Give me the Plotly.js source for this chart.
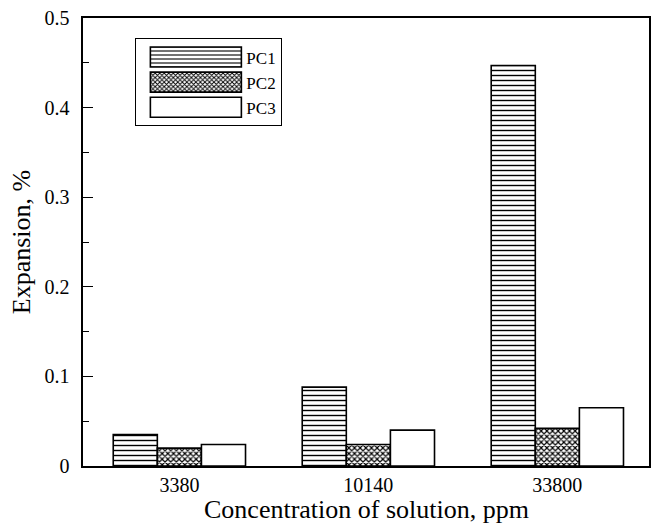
<!DOCTYPE html>
<html>
<head>
<meta charset="utf-8">
<script src="https://cdn.plot.ly/plotly-3.0.1.min.js"></script>
<style>html,body{margin:0;padding:0;background:#fff;}#chart{width:651px;height:524px;}</style>
</head>
<body>
<div id="chart"></div>
<script>
const categories = ["3380", "10140", "33800"];
const pc1 = [0.035, 0.088, 0.447];
const pc2 = [0.020, 0.024, 0.042];
const pc3 = [0.024, 0.040, 0.065];
const seriesNames = ["PC1", "PC2", "PC3"];
const yTickVals = [0, 0.1, 0.2, 0.3, 0.4, 0.5];
const yTickText = ["0", "0.1", "0.2", "0.3", "0.4", "0.5"];
const xTitle = "Concentration of solution, ppm";
const yTitle = "Expansion, %";

const font = "Liberation Serif";
const line = {color: "#000", width: 1.6};

const traces = [
  {type: "bar", name: seriesNames[0], x: categories, y: pc1,
   marker: {color: "#fff", line: line,
            pattern: {shape: "-", fgcolor: "#000", bgcolor: "#fff", size: 5, solidity: 0.28}}},
  {type: "bar", name: seriesNames[1], x: categories, y: pc2,
   marker: {color: "#fff", line: line,
            pattern: {shape: "x", fgcolor: "#000", bgcolor: "#fff", size: 4, solidity: 0.5}}},
  {type: "bar", name: seriesNames[2], x: categories, y: pc3,
   marker: {color: "#fff", line: line}}
];

const layout = {
  width: 651, height: 524,
  font: {family: font, color: "#000", size: 20},
  margin: {l: 83, r: 2, t: 18, b: 58},
  paper_bgcolor: "#fff", plot_bgcolor: "#fff",
  barmode: "group", bargap: 0.3, bargroupgap: 0,
  showlegend: true,
  legend: {x: 0.092, y: 0.955, xanchor: "left", yanchor: "top",
           bordercolor: "#000", borderwidth: 1.3, bgcolor: "#fff",
           font: {family: font, size: 17, color: "#000"},
           itemwidth: 100, tracegroupgap: 0},
  xaxis: {type: "category", range: [-0.51, 2.485],
          showline: true, linecolor: "#000", linewidth: 1.6, mirror: true,
          ticks: "", showgrid: false, zeroline: false, ticklabelstandoff: 0,
          tickfont: {family: font, size: 20, color: "#000"}},
  yaxis: {range: [0, 0.5], tickvals: yTickVals, ticktext: yTickText,
          showline: true, linecolor: "#000", linewidth: 1.6, mirror: true,
          ticks: "inside", ticklen: 10, tickwidth: 1.2, tickcolor: "#000",
          minor: {dtick: 0.05, ticks: "inside", ticklen: 6, tickwidth: 1, tickcolor: "#000"},
          showgrid: false, zeroline: false, ticklabelstandoff: 8,
          tickfont: {family: font, size: 20, color: "#000"},
          title: {text: yTitle, standoff: 6,
                  font: {family: font, size: 26, color: "#000"}}},
  annotations: [
    {text: xTitle, xref: "paper", yref: "paper", x: 0.5, y: -0.098,
     xanchor: "center", yanchor: "middle", showarrow: false,
     font: {family: font, size: 26, color: "#000"}}
  ]
};

Plotly.newPlot("chart", traces, layout, {displayModeBar: false, staticPlot: true}).then(function (gd) {
  // widen the legend swatches to match the reference's long rectangles
  gd.querySelectorAll(".legend .legendpoints path").forEach(function (p) {
    p.setAttribute("d", "M50,10H-41V-10H50Z");
    p.style.strokeWidth = "1.6px";
  });
});
</script>
</body>
</html>
